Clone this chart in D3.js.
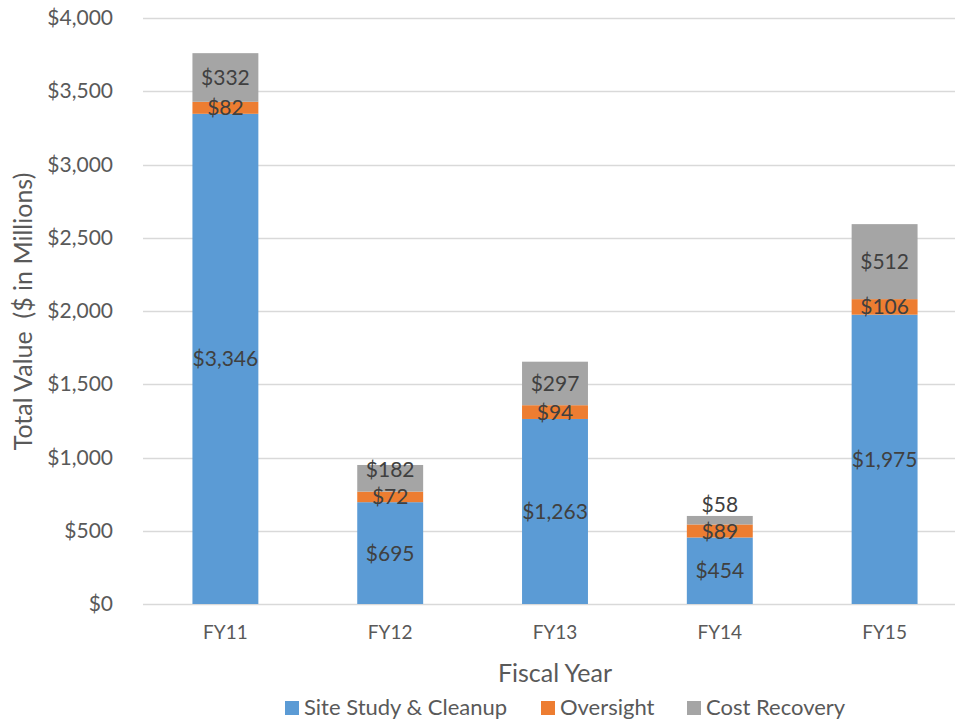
<!DOCTYPE html>
<html>
<head>
<meta charset="utf-8">
<script src="https://cdn.jsdelivr.net/npm/d3@7"></script>
<style>
  html, body { margin: 0; padding: 0; background: #fff; }
  svg { display: block; font-family: Lato, "Open Sans", sans-serif; }
</style>
</head>
<body>
<svg id="chart" width="955" height="719"></svg>
<script>
// Fiscal years and the three funding components ($ millions)
const years = ["FY11", "FY12", "FY13", "FY14", "FY15"];
const siteStudyCleanup = [3346, 695, 1263, 454, 1975];
const oversight = [82, 72, 94, 89, 106];
const costRecovery = [332, 182, 297, 58, 512];
const seriesNames = ["Site Study & Cleanup", "Oversight", "Cost Recovery"];
const seriesColors = ["#5B9BD5", "#ED7D31", "#A5A5A5"];
const yTicks = [0, 500, 1000, 1500, 2000, 2500, 3000, 3500, 4000];

const rows = years.map((y, i) => ({
  year: y,
  "Site Study & Cleanup": siteStudyCleanup[i],
  "Oversight": oversight[i],
  "Cost Recovery": costRecovery[i]
}));

const svg = d3.select("#chart");
const plot = { left: 143, right: 967, top: 18, bottom: 604 };
const textColor = "#595959";

const x = d3.scaleBand()
  .domain(years)
  .range([plot.left, plot.right])
  .paddingInner(0.6)
  .paddingOuter(0.3);

const y = d3.scaleLinear()
  .domain([0, 4000])
  .range([plot.bottom, plot.top]);

const fmt = d3.format("$,");

// Horizontal gridlines
svg.append("g")
  .selectAll("line")
  .data(yTicks)
  .join("line")
  .attr("x1", plot.left)
  .attr("x2", plot.right)
  .attr("y1", d => Math.round(y(d)) + 0.5)
  .attr("y2", d => Math.round(y(d)) + 0.5)
  .attr("stroke", "#D9D9D9")
  .attr("stroke-width", 1.5);

// Y axis labels
const yAxis = d3.axisLeft(y).tickValues(yTicks).tickFormat(fmt).tickSize(0).tickPadding(0);
const yg = svg.append("g").attr("transform", `translate(113,0)`).call(yAxis);
yg.select(".domain").remove();
yg.selectAll("text")
  .attr("fill", textColor)
  .attr("font-size", 21)
  .attr("font-family", "Lato, sans-serif");

// X axis labels
const xAxis = d3.axisBottom(x).tickSize(0).tickPadding(0);
const xg = svg.append("g").attr("transform", `translate(0,625)`).call(xAxis);
xg.select(".domain").remove();
xg.selectAll("text")
  .attr("fill", textColor)
  .attr("font-size", 19)
  .attr("font-family", "Lato, sans-serif");

// Stacked bars
const stack = d3.stack().keys(seriesNames);
const stacked = stack(rows);
const color = d3.scaleOrdinal().domain(seriesNames).range(seriesColors);

const layers = svg.append("g")
  .selectAll("g")
  .data(stacked)
  .join("g")
  .attr("fill", d => color(d.key));

layers.selectAll("rect")
  .data(d => d.map(p => ({ p, key: d.key })))
  .join("rect")
  .attr("x", d => x(d.p.data.year))
  .attr("width", x.bandwidth())
  .attr("y", d => y(d.p[1]))
  .attr("height", d => y(d.p[0]) - y(d.p[1]));

// Data labels: centred in each segment, then nudged upward when they would
// collide with the label of the segment below
const minGap = 27;
const labels = [];
years.forEach((yr, i) => {
  let prevY = null;
  stacked.forEach(layer => {
    const p = layer[i];
    let cy = (y(p[0]) + y(p[1])) / 2;
    if (prevY !== null && prevY - cy < minGap) cy = prevY - minGap;
    prevY = cy;
    labels.push({ x: x(yr) + x.bandwidth() / 2, y: cy, v: p[1] - p[0] });
  });
});

svg.append("g")
  .selectAll("text")
  .data(labels)
  .join("text")
  .attr("x", d => d.x)
  .attr("y", d => d.y)
  .attr("dy", "0.36em")
  .attr("text-anchor", "middle")
  .attr("fill", "#404040")
  .attr("font-size", 21)
  .text(d => fmt(d.v));

// Axis titles
svg.append("text")
  .attr("transform", `translate(32,311.5) rotate(-90)`)
  .attr("text-anchor", "middle")
  .attr("fill", textColor)
  .attr("font-size", 25)
  .style("white-space", "pre")
  .text("Total Value  ($ in Millions)");

svg.append("text")
  .attr("x", 555)
  .attr("y", 682)
  .attr("text-anchor", "middle")
  .attr("fill", textColor)
  .attr("font-size", 25)
  .text("Fiscal Year");

// Legend
const legendItems = [
  { name: seriesNames[0], sx: 285 },
  { name: seriesNames[1], sx: 541 },
  { name: seriesNames[2], sx: 687 }
];
const lg = svg.append("g");
legendItems.forEach((it, i) => {
  lg.append("rect")
    .attr("x", it.sx)
    .attr("y", 701)
    .attr("width", 14)
    .attr("height", 14)
    .attr("fill", seriesColors[i]);
  lg.append("text")
    .attr("x", it.sx + 19)
    .attr("y", 715)
    .attr("fill", textColor)
    .attr("font-size", 22)
    .text(it.name);
});
</script>
</body>
</html>
